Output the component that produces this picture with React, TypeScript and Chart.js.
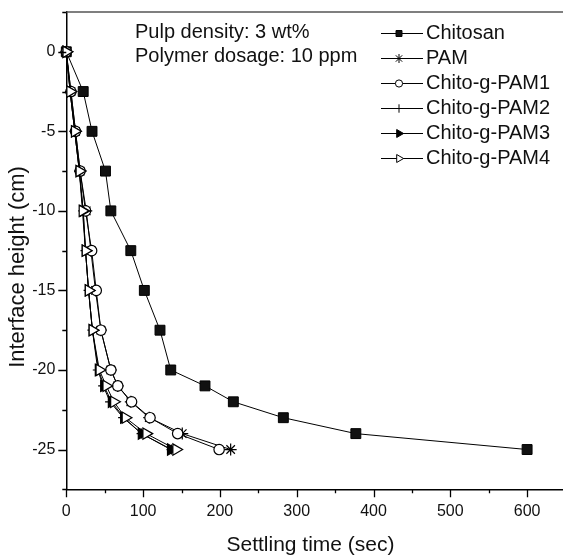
import React, { useEffect, useRef } from 'react';
import { Chart, registerables } from 'chart.js';
import { drawPoint } from 'chart.js/helpers';

Chart.register(...registerables);

// ---- data ----
const heights = [0, -2.5, -5, -7.5, -10, -12.5, -15, -17.5, -20, -21, -22, -23, -24, -25];
const chitosanTimes = [0, 22, 33.5, 51, 58, 84, 101.6, 122, 136, 180.6, 217.5, 282.6, 377, 600];
const pamTimes = [0, 6, 12, 18, 26, 32, 38, 45, 58, 67, 84, 108, 151, 214];
const pam1Times = [0, 6, 12, 18, 25, 33, 39, 45, 58, 67, 85, 109, 145, 199];
const pam2Times = [0, 5, 11, 17, 22, 25, 29, 34, 41, 48, 57, 74, 98, 137];
const pam3Times = [0, 5, 11, 17, 22, 25, 29, 34, 42, 49, 59, 75, 98, 136];
const pam4Times = [0, 5, 11, 17, 21, 25, 29, 34, 43, 52, 62, 77, 104, 143];
const seriesNames = ['Chitosan', 'PAM', 'Chito-g-PAM1', 'Chito-g-PAM2', 'Chito-g-PAM3', 'Chito-g-PAM4'];
const seriesTimes = [chitosanTimes, pamTimes, pam1Times, pam2Times, pam3Times, pam4Times];
const annotationLines = ['Pulp density: 3 wt%', 'Polymer dosage: 10 ppm'];
const xTitle = 'Settling time (sec)';
const yTitle = 'Interface height (cm)';

const FONT = '"Liberation Sans", Arial, Helvetica, sans-serif';

const markerStyles = [
  { pointStyle: 'rect', radius: 7, legendRadius: 4.2, fill: '#111', rotation: 0, bw: 1 },
  { pointStyle: 'star', radius: 6, legendRadius: 4.5, fill: '#000', rotation: 0, bw: 1.2 },
  { pointStyle: 'circle', radius: 5.2, legendRadius: 3.6, fill: '#fff', rotation: 0, bw: 1.2 },
  { pointStyle: 'cross', radius: 5, legendRadius: 4.2, fill: '#000', rotation: 0, bw: 1.2 },
  { pointStyle: 'triangle', radius: 6.5, legendRadius: 4.6, fill: '#000', rotation: 90, bw: 1.2 },
  { pointStyle: 'triangle', radius: 6.5, legendRadius: 4.6, fill: '#fff', rotation: 90, bw: 1.2 },
];

const framePlugin = {
  id: 'frame',
  afterDraw(chart: any) {
    const { ctx, chartArea: a, scales } = chart;
    const x = scales.x;
    const y = scales.y;
    ctx.save();
    // top / right frame
    ctx.strokeStyle = '#555';
    ctx.lineWidth = 1.5;
    ctx.beginPath();
    ctx.moveTo(a.left, a.top);
    ctx.lineTo(a.right, a.top);
    ctx.lineTo(a.right, a.bottom);
    ctx.stroke();

    // tick marks (major & minor)
    ctx.strokeStyle = '#000';
    ctx.lineWidth = 1.3;
    ctx.beginPath();
    for (let v = x.min; v <= x.max + 1e-9; v += 50) {
      const px = Math.round(x.getPixelForValue(v)) + 0.5;
      const len = Math.abs(v % 100) < 1e-9 ? 8 : 4;
      ctx.moveTo(px, a.bottom);
      ctx.lineTo(px, a.bottom + len);
    }
    for (let v = y.min; v <= y.max + 1e-9; v += 2.5) {
      const py = Math.round(y.getPixelForValue(v)) + 0.5;
      const len = Math.abs(v % 5) < 1e-9 ? 8 : 4;
      ctx.moveTo(a.left, py);
      ctx.lineTo(a.left - len, py);
    }
    ctx.stroke();

    // axis titles
    ctx.fillStyle = '#111';
    ctx.font = `21px ${FONT}`;
    ctx.textAlign = 'center';
    ctx.textBaseline = 'middle';
    ctx.fillText(xTitle, 310.5, 545);
    ctx.save();
    ctx.translate(18, 267);
    ctx.rotate(-Math.PI / 2);
    ctx.font = `22px ${FONT}`;
    ctx.fillText(yTitle, 0, 0);
    ctx.restore();

    // annotation
    ctx.font = `20px ${FONT}`;
    ctx.textAlign = 'left';
    annotationLines.forEach((t, i) => ctx.fillText(t, 135, 32 + i * 24.5));

    // legend
    seriesNames.forEach((name, i) => {
      const ly = 33.5 + i * 25;
      ctx.strokeStyle = '#000';
      ctx.lineWidth = 1;
      ctx.beginPath();
      ctx.moveTo(381, ly);
      ctx.lineTo(423, ly);
      ctx.stroke();
      const m = markerStyles[i];
      ctx.fillStyle = m.fill;
      ctx.strokeStyle = '#000';
      ctx.lineWidth = 1;
      drawPoint(ctx, { pointStyle: m.pointStyle as any, rotation: m.rotation, radius: m.legendRadius, borderWidth: 1 }, 399, ly);
      ctx.fillStyle = '#111';
      ctx.fillText(name, 426, ly);
    });
    ctx.restore();
  },
};

export default function App() {
  const ref = useRef<HTMLCanvasElement>(null);
  useEffect(() => {
    if (!ref.current) return;
    const datasets = seriesNames.map((name, i) => {
      const m = markerStyles[i];
      return {
        label: name,
        data: seriesTimes[i].map((t, j) => ({ x: t, y: heights[j] })),
        order: seriesNames.length - 1 - i,
        borderColor: '#000',
        borderWidth: 1,
        backgroundColor: m.fill,
        pointBackgroundColor: m.fill,
        pointBorderColor: '#000',
        pointBorderWidth: m.bw,
        pointStyle: m.pointStyle,
        pointRadius: m.radius,
        pointRotation: m.rotation,
        tension: 0,
        fill: false,
        clip: false as any,
      };
    });
    const chart = new Chart(ref.current, {
      type: 'line',
      data: { datasets },
      options: {
        animation: false,
        responsive: false,
        devicePixelRatio: 1,
        layout: { padding: { top: 12, right: 34.5, left: 0, bottom: 0 } },
        plugins: { legend: { display: false }, tooltip: { enabled: false } },
        scales: {
          x: {
            type: 'linear',
            min: 0,
            max: 650,
            afterFit: (s: any) => { s.height = 66.7; },
            grid: { display: true, drawOnChartArea: false, drawTicks: false },
            border: { display: true, color: '#000', width: 1.5 },
            ticks: {
              stepSize: 50,
              padding: 13,
              color: '#111',
              font: { family: FONT, size: 16 },
              maxRotation: 0,
              autoSkip: false,
              callback: (v: any) => (Math.abs(Number(v) % 100) < 1e-9 && Number(v) <= 600 ? String(v) : ''),
            },
          },
          y: {
            type: 'linear',
            min: -27.5,
            max: 2.5,
            afterFit: (s: any) => { s.width = 66.3; s.paddingTop = 0; s.paddingBottom = 0; },
            grid: { display: true, drawOnChartArea: false, drawTicks: false },
            border: { display: true, color: '#000', width: 1.5 },
            ticks: {
              stepSize: 2.5,
              padding: 11,
              color: '#111',
              font: { family: FONT, size: 16 },
              autoSkip: false,
              callback: (v: any) => (Math.abs(Number(v) % 5) < 1e-9 ? String(v) : ''),
            },
          },
        },
      },
      plugins: [framePlugin],
    });
    return () => chart.destroy();
  }, []);
  return (
    <div style={{ position: 'fixed', left: 0, top: 0, width: 563, height: 556, overflow: 'hidden', background: '#fff' }}>
      <canvas ref={ref} width={600} height={556} style={{ display: 'block' }} />
    </div>
  );
}
